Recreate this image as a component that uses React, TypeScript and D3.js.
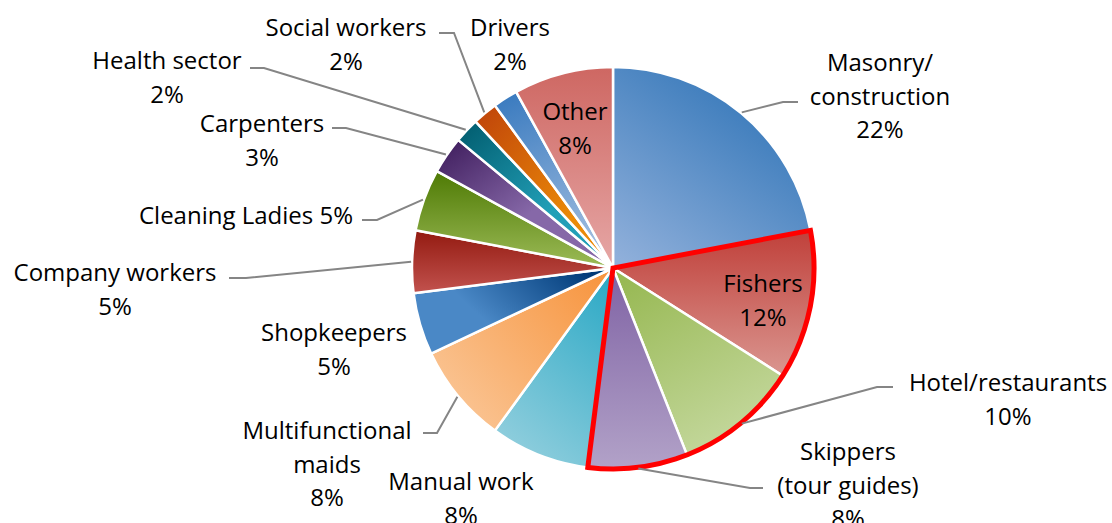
import React from 'react';
import * as d3 from 'd3';

// ---- data ----
const categories = [
  'Masonry/\nconstruction',
  'Fishers',
  'Hotel/restaurants',
  'Skippers\n(tour guides)',
  'Manual work',
  'Multifunctional\nmaids',
  'Shopkeepers',
  'Company workers',
  'Cleaning Ladies',
  'Carpenters',
  'Health sector',
  'Social workers',
  'Drivers',
  'Other',
];
const shares = [22, 12, 10, 8, 8, 8, 5, 5, 5, 3, 2, 2, 2, 8];
const highlighted = ['Fishers', 'Hotel/restaurants', 'Skippers\n(tour guides)'];

// ---- styles ----
// [dark, light, x1, y1, x2, y2] (objectBoundingBox)
const sliceGradients: [string, string, number, number, number, number][] = [
  ['#2C72B6', '#8FAFDA', 0.8, 0, 0.1, 1],
  ['#C0403A', '#DA9690', 0, 0, 0, 1],
  ['#98B954', '#C6D9A0', 0.2, 0, 0.7, 1],
  ['#7F62A4', '#B2A2C8', 0, 0, 0, 1],
  ['#2FAAC6', '#90CEDD', 0.8, 0, 0.3, 1],
  ['#F7953F', '#FAC391', 1, 0.1, 0.1, 0.8],
  ['#003A78', '#4A88C6', 1, 0.3, 0.35, 0.6],
  ['#931A10', '#C2524E', 0, 0, 0, 1],
  ['#4E7A04', '#9CBB57', 0, 0, 0, 1],
  ['#3C1A5A', '#8668A8', 0, 0, 0.55, 0.55],
  ['#005A6C', '#229FB7', 0, 0, 0.6, 0.6],
  ['#BE420A', '#EB8A08', 0, 0, 0.7, 0.7],
  ['#3678BE', '#9CBADE', 0, 0, 0.3, 1],
  ['#CE6762', '#E6A7A6', 0, 0, 0, 1],
];

type Layout = { x: number; y: number; inline?: boolean; elbow?: [number, number]; end?: [number, number] };
const labelLayout: Layout[] = [
  { x: 880, y: 61, elbow: [783, 102], end: [798, 102] },
  { x: 763, y: 282 },
  { x: 1008, y: 381, elbow: [877, 387], end: [893, 387] },
  { x: 848, y: 450, elbow: [750, 488], end: [763, 488] },
  { x: 461, y: 480 },
  { x: 327, y: 429, elbow: [437, 433], end: [423, 433] },
  { x: 334, y: 331 },
  { x: 115, y: 271, elbow: [246, 278], end: [229, 278] },
  { x: 246, y: 214, inline: true, elbow: [377, 220], end: [362, 220] },
  { x: 262, y: 122, elbow: [346, 128], end: [332, 128] },
  { x: 167, y: 59, elbow: [264, 68], end: [250, 68] },
  { x: 346, y: 26, elbow: [454, 33], end: [439, 33] },
  { x: 510, y: 26 },
  { x: 575, y: 110 },
];

const W = 1112;
const H = 523;
const CX = 613;
const CY = 268;
const R = 201;
const FONT = "'Open Sans', 'Noto Sans', sans-serif";
const FS = 24;
const LINE = 33.5;

export default function App() {
  const pie = d3
    .pie<number>()
    .sort(null)
    .value((d) => d)
    .startAngle(0)
    .endAngle(2 * Math.PI);
  const arcs = pie(shares);
  const arc = d3.arc<d3.PieArcDatum<number>>().innerRadius(0).outerRadius(R);
  const edge = d3.arc<d3.PieArcDatum<number>>().innerRadius(R + 1).outerRadius(R + 1);

  const hiIdx = highlighted.map((h) => categories.indexOf(h));
  const hiStart = d3.min(hiIdx.map((i) => arcs[i].startAngle)) as number;
  const hiEnd = d3.max(hiIdx.map((i) => arcs[i].endAngle)) as number;
  const hiPath = d3.arc()({ innerRadius: 0, outerRadius: R, startAngle: hiStart, endAngle: hiEnd } as any) as string;

  return (
    <svg width={W} height={H} style={{ position: 'absolute', left: 0, top: 0, background: '#fff' }}>
      <defs>
        {sliceGradients.map((g, i) => (
          <linearGradient key={i} id={`g${i}`} x1={g[2]} y1={g[3]} x2={g[4]} y2={g[5]}>
            <stop offset="0" stopColor={g[0]} />
            <stop offset="1" stopColor={g[1]} />
          </linearGradient>
        ))}
      </defs>
      <g transform={`translate(${CX},${CY})`}>
        {arcs.map((a, i) => (
          <path key={i} d={arc(a) as string} fill={`url(#g${i})`} stroke="#fff" strokeWidth={2.5} strokeLinejoin="round" />
        ))}
        <path d={hiPath} fill="none" stroke="#FF0000" strokeWidth={5} strokeLinejoin="miter" />
      </g>
      {arcs.map((a, i) => {
        const L = labelLayout[i];
        if (!L.elbow || !L.end) return null;
        const [px, py] = edge.centroid(a);
        const pts = [[CX + px, CY + py], L.elbow, L.end];
        return (
          <polyline
            key={`l${i}`}
            points={pts.map((p) => p.join(',')).join(' ')}
            fill="none"
            stroke="#858585"
            strokeWidth={2}
          />
        );
      })}
      {arcs.map((a, i) => {
        const L = labelLayout[i];
        const pct = `${shares[i]}%`;
        const lines = categories[i].split('\n');
        if (L.inline) lines[lines.length - 1] += ' ' + pct;
        else lines.push(pct);
        return (
          <text
            key={`t${i}`}
            x={L.x}
            y={L.y}
            textAnchor="middle"
            dominantBaseline="central"
            fontFamily={FONT}
            fontSize={FS}
            fill="#000"
          >
            {lines.map((ln, j) => (
              <tspan key={j} x={L.x} y={L.y + j * LINE}>
                {ln}
              </tspan>
            ))}
          </text>
        );
      })}
    </svg>
  );
}
